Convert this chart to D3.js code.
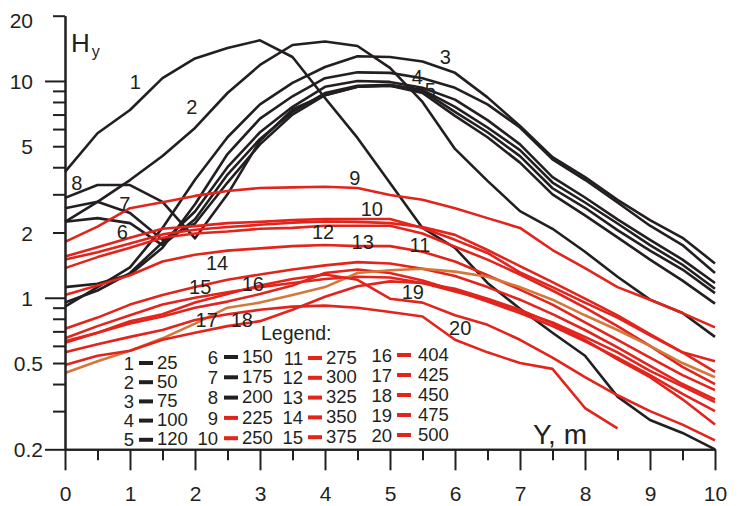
<!DOCTYPE html>
<html><head><meta charset="utf-8">
<script src="https://cdn.jsdelivr.net/npm/d3@7"></script>
<style>
body{margin:0;background:#fff}
svg{display:block}
text{font-family:"Liberation Sans",Arial,Helvetica,sans-serif;fill:#231f20}
</style>
</head><body>
<svg id="c" width="740" height="506"></svg>
<script>
// ---------------- data ----------------
const distances = [0,0.5,1,1.5,2,2.5,3,3.5,4,4.5,5,5.5,6,6.5,7,7.5,8,8.5,9,9.5,10];
const curveIds = [1,2,3,4,5,6,7,8,9,10,11,12,13,14,15,16,17,18,19,20];
const legendValues = [25,50,75,100,120,150,175,200,225,250,275,300,325,350,375,404,425,450,475,500];
const xTicks = [0,1,2,3,4,5,6,7,8,9,10];
const xMinorTicks = [0.5,1.5,2.5,3.5,4.5,5.5,6.5,7.5,8.5,9.5];
const yTickLabels = [0.2,0.5,1,2,5,10,20];
const yMajorTicks = [0.2,1,10];
const yMinorTicks = [0.3,0.4,0.5,0.6,0.7,0.8,0.9,2,3,4,5,6,7,8,9,20];

const h1 = [3.81,5.74,7.35,10.3,12.7,14.2,15.4,12.9,8.35,5.46,3.38,2.10,1.70,1.17,0.89,0.69,0.54,0.35,0.273,0.238,0.2];
const h2 = [2.24,2.77,3.49,4.51,6.07,8.8,11.85,14.65,15.2,14.5,11.5,8.0,4.86,3.46,2.51,2.08,1.63,1.25,0.98,0.85,0.66];
const h3 = [0.91,1.12,1.38,2.1,3.5,5.5,7.8,9.8,11.6,13.0,12.9,12.3,10.9,8.4,6.2,4.45,3.6,2.83,2.28,1.89,1.44];
const h4 = [1.12,1.16,1.28,1.7,2.7,4.6,6.7,8.5,10.3,10.96,10.9,10.3,9.3,7.8,6.1,4.35,3.5,2.75,2.15,1.75,1.30];
const h5 = [0.95,1.08,1.30,1.8,2.5,4.0,5.8,7.6,9.4,10.0,9.9,9.3,8.2,6.6,5.1,3.6,2.9,2.3,1.85,1.5,1.17];
const h6 = [2.24,2.33,2.21,1.75,2.3,3.7,5.4,7.2,8.8,9.5,9.6,9.1,7.6,6.1,4.8,3.4,2.75,2.2,1.75,1.42,1.10];
const h7 = [2.59,2.77,2.46,1.85,2.2,3.4,5.1,7.0,8.6,9.4,9.5,9.0,7.2,5.8,4.5,3.2,2.6,2.05,1.65,1.35,1.05];
const h8 = [2.89,3.31,3.31,2.77,1.88,3.0,5.3,7.4,8.6,9.4,9.5,8.8,6.9,5.5,4.2,3.0,2.4,1.9,1.5,1.2,0.94];
const h9 = [1.81,2.13,2.59,2.76,2.95,3.11,3.21,3.23,3.25,3.21,2.98,2.83,2.59,2.33,2.10,1.66,1.37,1.12,0.98,0.85,0.73];
const h10 = [1.55,1.71,1.89,2.08,2.14,2.21,2.24,2.28,2.31,2.31,2.31,2.10,1.85,1.61,1.31,1.12,0.95,0.81,0.67,0.56,0.51];
const h11 = [1.50,1.62,1.78,1.96,2.06,2.12,2.17,2.22,2.25,2.24,2.21,2.12,1.95,1.66,1.40,1.18,0.99,0.83,0.68,0.56,0.455];
const h12 = [1.37,1.54,1.70,1.89,1.98,2.02,2.08,2.10,2.15,2.15,2.15,1.98,1.72,1.50,1.28,1.08,0.90,0.74,0.60,0.48,0.40];
const h13 = [1.03,1.14,1.27,1.47,1.58,1.65,1.69,1.73,1.75,1.73,1.73,1.63,1.47,1.27,1.09,0.93,0.77,0.64,0.53,0.44,0.375];
const h14 = [0.72,0.81,0.93,1.03,1.12,1.21,1.28,1.35,1.41,1.46,1.44,1.36,1.26,1.12,0.98,0.84,0.71,0.59,0.485,0.40,0.34];
const h15 = [0.65,0.74,0.83,0.93,1.00,1.06,1.12,1.17,1.22,1.25,1.24,1.17,1.07,0.98,0.87,0.77,0.66,0.56,0.46,0.39,0.33];
const h16 = [0.63,0.69,0.76,0.82,0.90,0.96,1.04,1.14,1.30,1.35,1.30,1.20,1.08,0.96,0.85,0.74,0.63,0.53,0.44,0.36,0.30];
const h17 = [0.45,0.51,0.57,0.65,0.76,0.90,0.95,1.03,1.12,1.30,1.34,1.36,1.32,1.25,1.12,0.98,0.83,0.71,0.60,0.50,0.43];
const h18 = [0.49,0.54,0.57,0.64,0.69,0.74,0.78,0.88,1.01,1.13,1.19,1.17,1.10,0.99,0.88,0.76,0.64,0.52,0.43,0.34,0.26];
const h19 = [0.62,0.69,0.78,0.84,0.95,1.04,1.14,1.22,1.28,1.21,0.99,0.95,0.83,0.75,0.64,0.53,0.43,0.355,0.30,0.26,0.22];
const h20 = [0.56,0.61,0.66,0.71,0.79,0.84,0.88,0.91,0.92,0.90,0.86,0.82,0.64,0.56,0.50,0.47,0.31,0.25];
const series = [h1,h2,h3,h4,h5,h6,h7,h8,h9,h10,h11,h12,h13,h14,h15,h16,h17,h18,h19,h20];

// curve label anchors (data coordinates)
const labelX = [1.08,1.95,5.85,5.42,5.62,0.88,0.92,0.18,4.46,4.72,5.46,3.97,4.58,2.34,2.08,2.89,2.18,2.72,5.35,6.08];
const labelV = [9.9,7.6,12.9,10.4,9.1,2.01,2.71,3.38,3.57,2.57,1.75,2.01,1.81,1.45,1.12,1.16,0.79,0.79,1.06,0.73];

// ---------------- drawing ----------------
const ink = "#231f20", red = "#e2241c", orange = "#d4773b";
const colorOf = id => id <= 8 ? ink : (id === 17 ? orange : red);

const svg = d3.select("#c");
const x = d3.scaleLinear().domain([0,10]).range([65,715]);
const y = d3.scaleLog().domain([0.2,20]).range([449.3,15.7]);

function styleAxis(g){
  g.selectAll("path.domain").attr("stroke", ink).attr("stroke-width", 2);
  g.selectAll(".tick line").attr("stroke", ink).attr("stroke-width", 2);
}

// curves
const line = d3.line().x((d,i) => x(distances[i])).y(d => y(d));
svg.append("g").selectAll("path").data(series).join("path")
  .attr("d", line)
  .attr("fill", "none")
  .attr("stroke", (d,i) => colorOf(curveIds[i]))
  .attr("stroke-width", 2.6)
  .attr("stroke-linejoin", "round");

// x axis
const gxMinor = svg.append("g").attr("transform","translate(0,449.3)")
  .call(d3.axisBottom(x).tickValues(xMinorTicks).tickSize(11).tickSizeOuter(0).tickFormat(""));
styleAxis(gxMinor);
const gx = svg.append("g").attr("transform","translate(0,449.3)")
  .call(d3.axisBottom(x).tickValues(xTicks).tickSize(21).tickSizeOuter(0).tickFormat(d3.format("d")));
styleAxis(gx);
gx.selectAll("text").attr("y", 51.7).attr("dy", 0).style("font-size","21px").attr("fill", ink);

// y axis
const gyMinor = svg.append("g").attr("transform","translate(65,0)")
  .call(d3.axisLeft(y).tickValues(yMinorTicks).tickSize(12).tickSizeOuter(0).tickFormat(""));
styleAxis(gyMinor);
const gyMajor = svg.append("g").attr("transform","translate(65,0)")
  .call(d3.axisLeft(y).tickValues(yMajorTicks).tickSize(20).tickSizeOuter(0).tickFormat(""));
styleAxis(gyMajor);
const gyLab = svg.append("g").attr("transform","translate(65,0)")
  .call(d3.axisLeft(y).tickValues(yTickLabels).tickSize(0).tickSizeOuter(0).tickFormat(d => String(d)));
gyLab.select("path.domain").remove();
gyLab.selectAll("text")
  .attr("x", d => d < 1 ? -22 : -32)
  .attr("dy", "0.36em")
  .attr("y", d => d === 20 ? 4 : 0)
  .style("font-size","21px").attr("fill", ink);

// axis titles
const ht = svg.append("text").attr("x", 71).attr("y", 52).style("font-size","26px");
ht.append("tspan").text("H");
ht.append("tspan").attr("dx", 2).attr("dy", 5).style("font-size","16px").text("y");
svg.append("text").attr("x", 533).attr("y", 444).style("font-size","28px").text("Y, m");

// curve labels
svg.append("g").selectAll("text").data(curveIds).join("text")
  .attr("x", (d,i) => x(labelX[i]))
  .attr("y", (d,i) => y(labelV[i]))
  .attr("dy", "0.36em")
  .attr("text-anchor", "middle")
  .style("font-size","20px")
  .text(d => d);

// legend
svg.append("text").attr("x", 261).attr("y", 340).style("font-size","19.5px").text("Legend:");
const colNumRight = [134, 218, 303, 392];
const colDash = [139, 224, 308, 397];
const colValLeft = [157, 242, 326, 418];
const colRowStart = [363, 357, 358, 355];
const colRowStep = [19.2, 20.3, 19.8, 20];
const lg = svg.append("g");
curveIds.forEach((id, i) => {
  const c = Math.floor(i / 5), r = i % 5;
  const cy = colRowStart[c] + r * colRowStep[c];
  lg.append("text").attr("x", colNumRight[c]).attr("y", cy).attr("dy","0.36em")
    .attr("text-anchor","end").style("font-size","18.5px").text(id);
  lg.append("line").attr("x1", colDash[c]).attr("x2", colDash[c] + 14)
    .attr("y1", cy).attr("y2", cy)
    .attr("stroke", id <= 8 ? ink : red).attr("stroke-width", 4);
  lg.append("text").attr("x", colValLeft[c]).attr("y", cy - 1).attr("dy","0.36em")
    .style("font-size","18.5px").text(legendValues[i]);
});
</script>
</body></html>
